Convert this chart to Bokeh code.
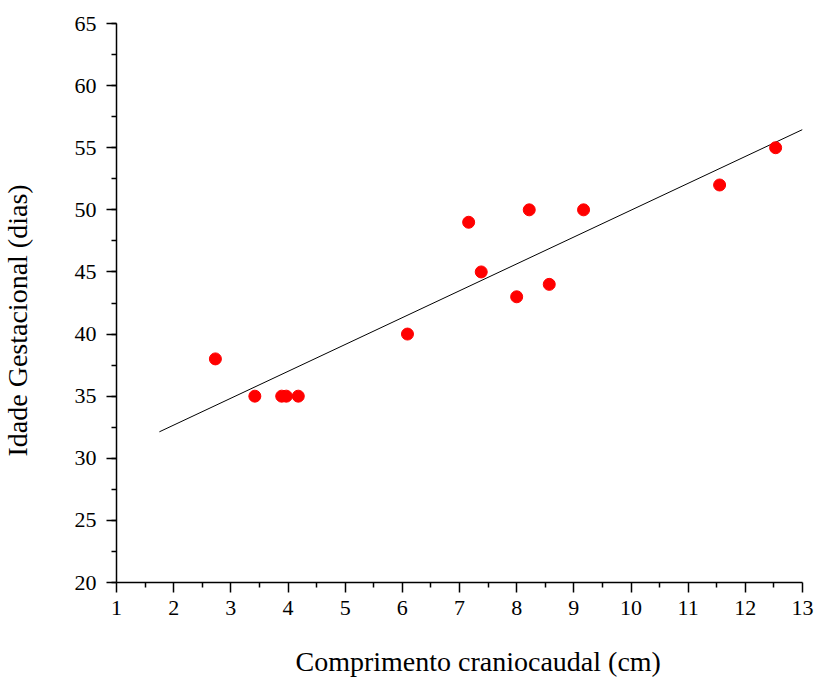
import math
from bokeh.plotting import figure
from bokeh.models import Range1d, FixedTicker, Label
from bokeh.embed import file_html
from bokeh.resources import INLINE

# Data
crl_cm = [2.73, 3.42, 3.89, 3.97, 4.18, 6.09, 7.16, 7.38, 8.0, 8.22, 8.57, 9.17, 11.55, 12.53]
ig_days = [38, 35, 35, 35, 35, 40, 49, 45, 43, 50, 44, 50, 52, 55]
fit_x = [1.75, 13.0]
fit_y = [32.13, 56.46]
x_ticks = list(range(1, 14))
y_ticks = list(range(20, 70, 5))
x_minor = [i + 0.5 for i in range(0, 14)]
y_minor = [20 + 2.5 * i for i in range(0, 20)]
x_label = "Comprimento craniocaudal (cm)"
y_label = "Idade Gestacional (dias)"

FONT = "Liberation Serif"

p = figure(width=818, height=682, output_backend="svg", toolbar_location=None,
           x_range=Range1d(1, 13), y_range=Range1d(20, 65),
           min_border_left=116, min_border_right=16, min_border_top=23,
           min_border_bottom=100)
p.outline_line_color = None
p.xgrid.visible = False
p.ygrid.visible = False

p.line(fit_x, fit_y, line_color="black", line_width=1)
p.scatter(crl_cm, ig_days, size=12, fill_color="#FF0000", line_color="#FF0000")

p.xaxis.ticker = FixedTicker(ticks=x_ticks, minor_ticks=x_minor)
p.yaxis.ticker = FixedTicker(ticks=y_ticks, minor_ticks=y_minor)

for ax in (p.xaxis, p.yaxis):
    ax.axis_line_color = "black"
    ax.axis_line_width = 1.5
    ax.major_tick_line_color = "black"
    ax.major_tick_line_width = 1.5
    ax.minor_tick_line_color = "black"
    ax.minor_tick_line_width = 1.5
    ax.major_tick_in = 0
    ax.major_tick_out = 10
    ax.minor_tick_in = 0
    ax.minor_tick_out = 5
    ax.major_label_text_font = FONT
    ax.major_label_text_font_size = "22px"
    ax.major_label_text_color = "black"

p.xaxis.major_label_standoff = 8
p.yaxis.major_label_standoff = 10

xl = Label(x=179, y=-13, x_units="screen", y_units="screen", text=x_label,
           text_font=FONT, text_font_size="28px", text_color="black",
           text_align="left", text_baseline="alphabetic")
yl = Label(x=-23, y=126, x_units="screen", y_units="screen", text=y_label,
           angle=math.pi / 2, text_font=FONT, text_font_size="28px",
           text_color="black", text_align="left", text_baseline="alphabetic")
p.add_layout(xl, "below")
p.add_layout(yl, "left")

open("out.html", "w").write(file_html(p, INLINE))
